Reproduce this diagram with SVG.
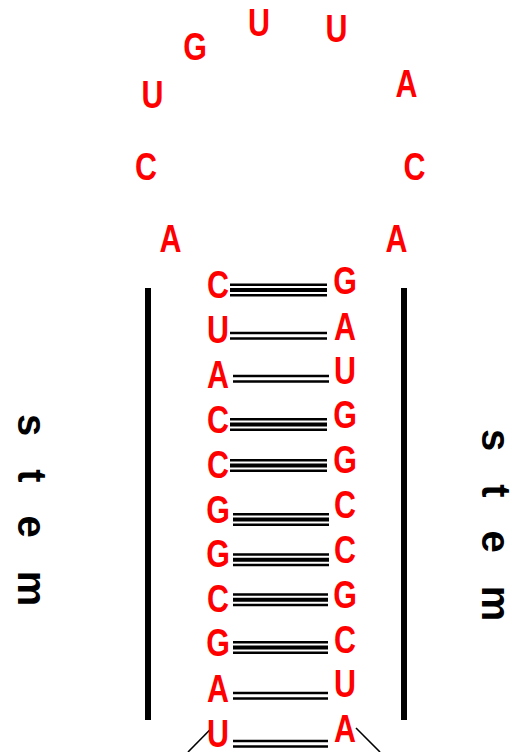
<svg xmlns="http://www.w3.org/2000/svg" xmlns:xlink="http://www.w3.org/1999/xlink" width="512" height="752" viewBox="0 0 512 752">
<style>
.nt{font-family:"Liberation Sans",Arial,sans-serif;font-weight:bold;font-size:38px;fill:#ff0000;text-anchor:middle}
.stem{font-family:"Liberation Sans",Arial,sans-serif;font-weight:bold;font-size:40px;fill:#000;letter-spacing:33px}
.bar{fill:#000}
.k13{fill:none;stroke:#000;stroke-width:13}
.w8{fill:none;stroke:#fff;stroke-width:8}
.k4{fill:none;stroke:#000;stroke-width:4}
.k8{fill:none;stroke:#000;stroke-width:8}
.w3{fill:none;stroke:#fff;stroke-width:3}
.thin{stroke:#000;stroke-width:1.6}
</style>
<defs>
<path id="tri" d="M230 290H327M230 424.5H327M230 465.5H327M233 519.5H329M233 559.7H329M233 599.7H328M233 647.5H328"/>
<path id="dbl" d="M230 335.7H327M233 378.7H329M233 695.8H328M233 743.7H328"/>
</defs>
<rect width="512" height="752" fill="#fff"/>
<g id="connectors">
<use xlink:href="#tri" class="k13"/>
<use xlink:href="#tri" class="w8"/>
<use xlink:href="#tri" class="k4"/>
<use xlink:href="#dbl" class="k8"/>
<use xlink:href="#dbl" class="w3"/>
<line class="thin" x1="211.7" y1="728" x2="188" y2="752"/>
<line class="thin" x1="356" y1="728" x2="380" y2="752"/>
</g>
<g id="stem-bars">
<rect class="bar" x="145" y="288" width="6" height="432"/>
<rect class="bar" x="401" y="288" width="6" height="432"/>
</g>
<g id="stem-labels">
<text class="stem" transform="translate(18,414) rotate(90)">stem</text>
<text class="stem" transform="translate(482,429) rotate(90)">stem</text>
</g>
<g id="loop">
<g id="n-l1"><text class="nt" transform="translate(170.5,252) scale(0.8,1)">A</text></g>
<g id="n-l2"><text class="nt" transform="translate(146,180) scale(0.8,1)">C</text></g>
<g id="n-l3"><text class="nt" transform="translate(152.5,108) scale(0.8,1)">U</text></g>
<g id="n-l4"><text class="nt" transform="translate(195,60) scale(0.8,1)">G</text></g>
<g id="n-l5"><text class="nt" transform="translate(259,36) scale(0.8,1)">U</text></g>
<g id="n-l6"><text class="nt" transform="translate(336.5,42) scale(0.8,1)">U</text></g>
<g id="n-l7"><text class="nt" transform="translate(406.5,97) scale(0.8,1)">A</text></g>
<g id="n-l8"><text class="nt" transform="translate(414.5,180) scale(0.8,1)">C</text></g>
<g id="n-l9"><text class="nt" transform="translate(396.5,252) scale(0.8,1)">A</text></g>
</g>
<g id="left-strand">
<g id="n-a1"><text class="nt" transform="translate(218,298) scale(0.8,1)">C</text></g>
<g id="n-a2"><text class="nt" transform="translate(218,343) scale(0.8,1)">U</text></g>
<g id="n-a3"><text class="nt" transform="translate(218,388) scale(0.8,1)">A</text></g>
<g id="n-a4"><text class="nt" transform="translate(218,433) scale(0.8,1)">C</text></g>
<g id="n-a5"><text class="nt" transform="translate(218,478) scale(0.8,1)">C</text></g>
<g id="n-a6"><text class="nt" transform="translate(218,523) scale(0.8,1)">G</text></g>
<g id="n-a7"><text class="nt" transform="translate(218,567) scale(0.8,1)">G</text></g>
<g id="n-a8"><text class="nt" transform="translate(218,612) scale(0.8,1)">C</text></g>
<g id="n-a9"><text class="nt" transform="translate(218,656) scale(0.8,1)">G</text></g>
<g id="n-a10"><text class="nt" transform="translate(218,702) scale(0.8,1)">A</text></g>
<g id="n-a11"><text class="nt" transform="translate(218,747) scale(0.8,1)">U</text></g>
</g>
<g id="right-strand">
<g id="n-b1"><text class="nt" transform="translate(345,294) scale(0.8,1)">G</text></g>
<g id="n-b2"><text class="nt" transform="translate(345,340) scale(0.8,1)">A</text></g>
<g id="n-b3"><text class="nt" transform="translate(345,384) scale(0.8,1)">U</text></g>
<g id="n-b4"><text class="nt" transform="translate(345,428) scale(0.8,1)">G</text></g>
<g id="n-b5"><text class="nt" transform="translate(345,473) scale(0.8,1)">G</text></g>
<g id="n-b6"><text class="nt" transform="translate(345,518) scale(0.8,1)">C</text></g>
<g id="n-b7"><text class="nt" transform="translate(345,563) scale(0.8,1)">C</text></g>
<g id="n-b8"><text class="nt" transform="translate(345,608) scale(0.8,1)">G</text></g>
<g id="n-b9"><text class="nt" transform="translate(345,653) scale(0.8,1)">C</text></g>
<g id="n-b10"><text class="nt" transform="translate(345,697) scale(0.8,1)">U</text></g>
<g id="n-b11"><text class="nt" transform="translate(345,742) scale(0.8,1)">A</text></g>
</g>
</svg>
